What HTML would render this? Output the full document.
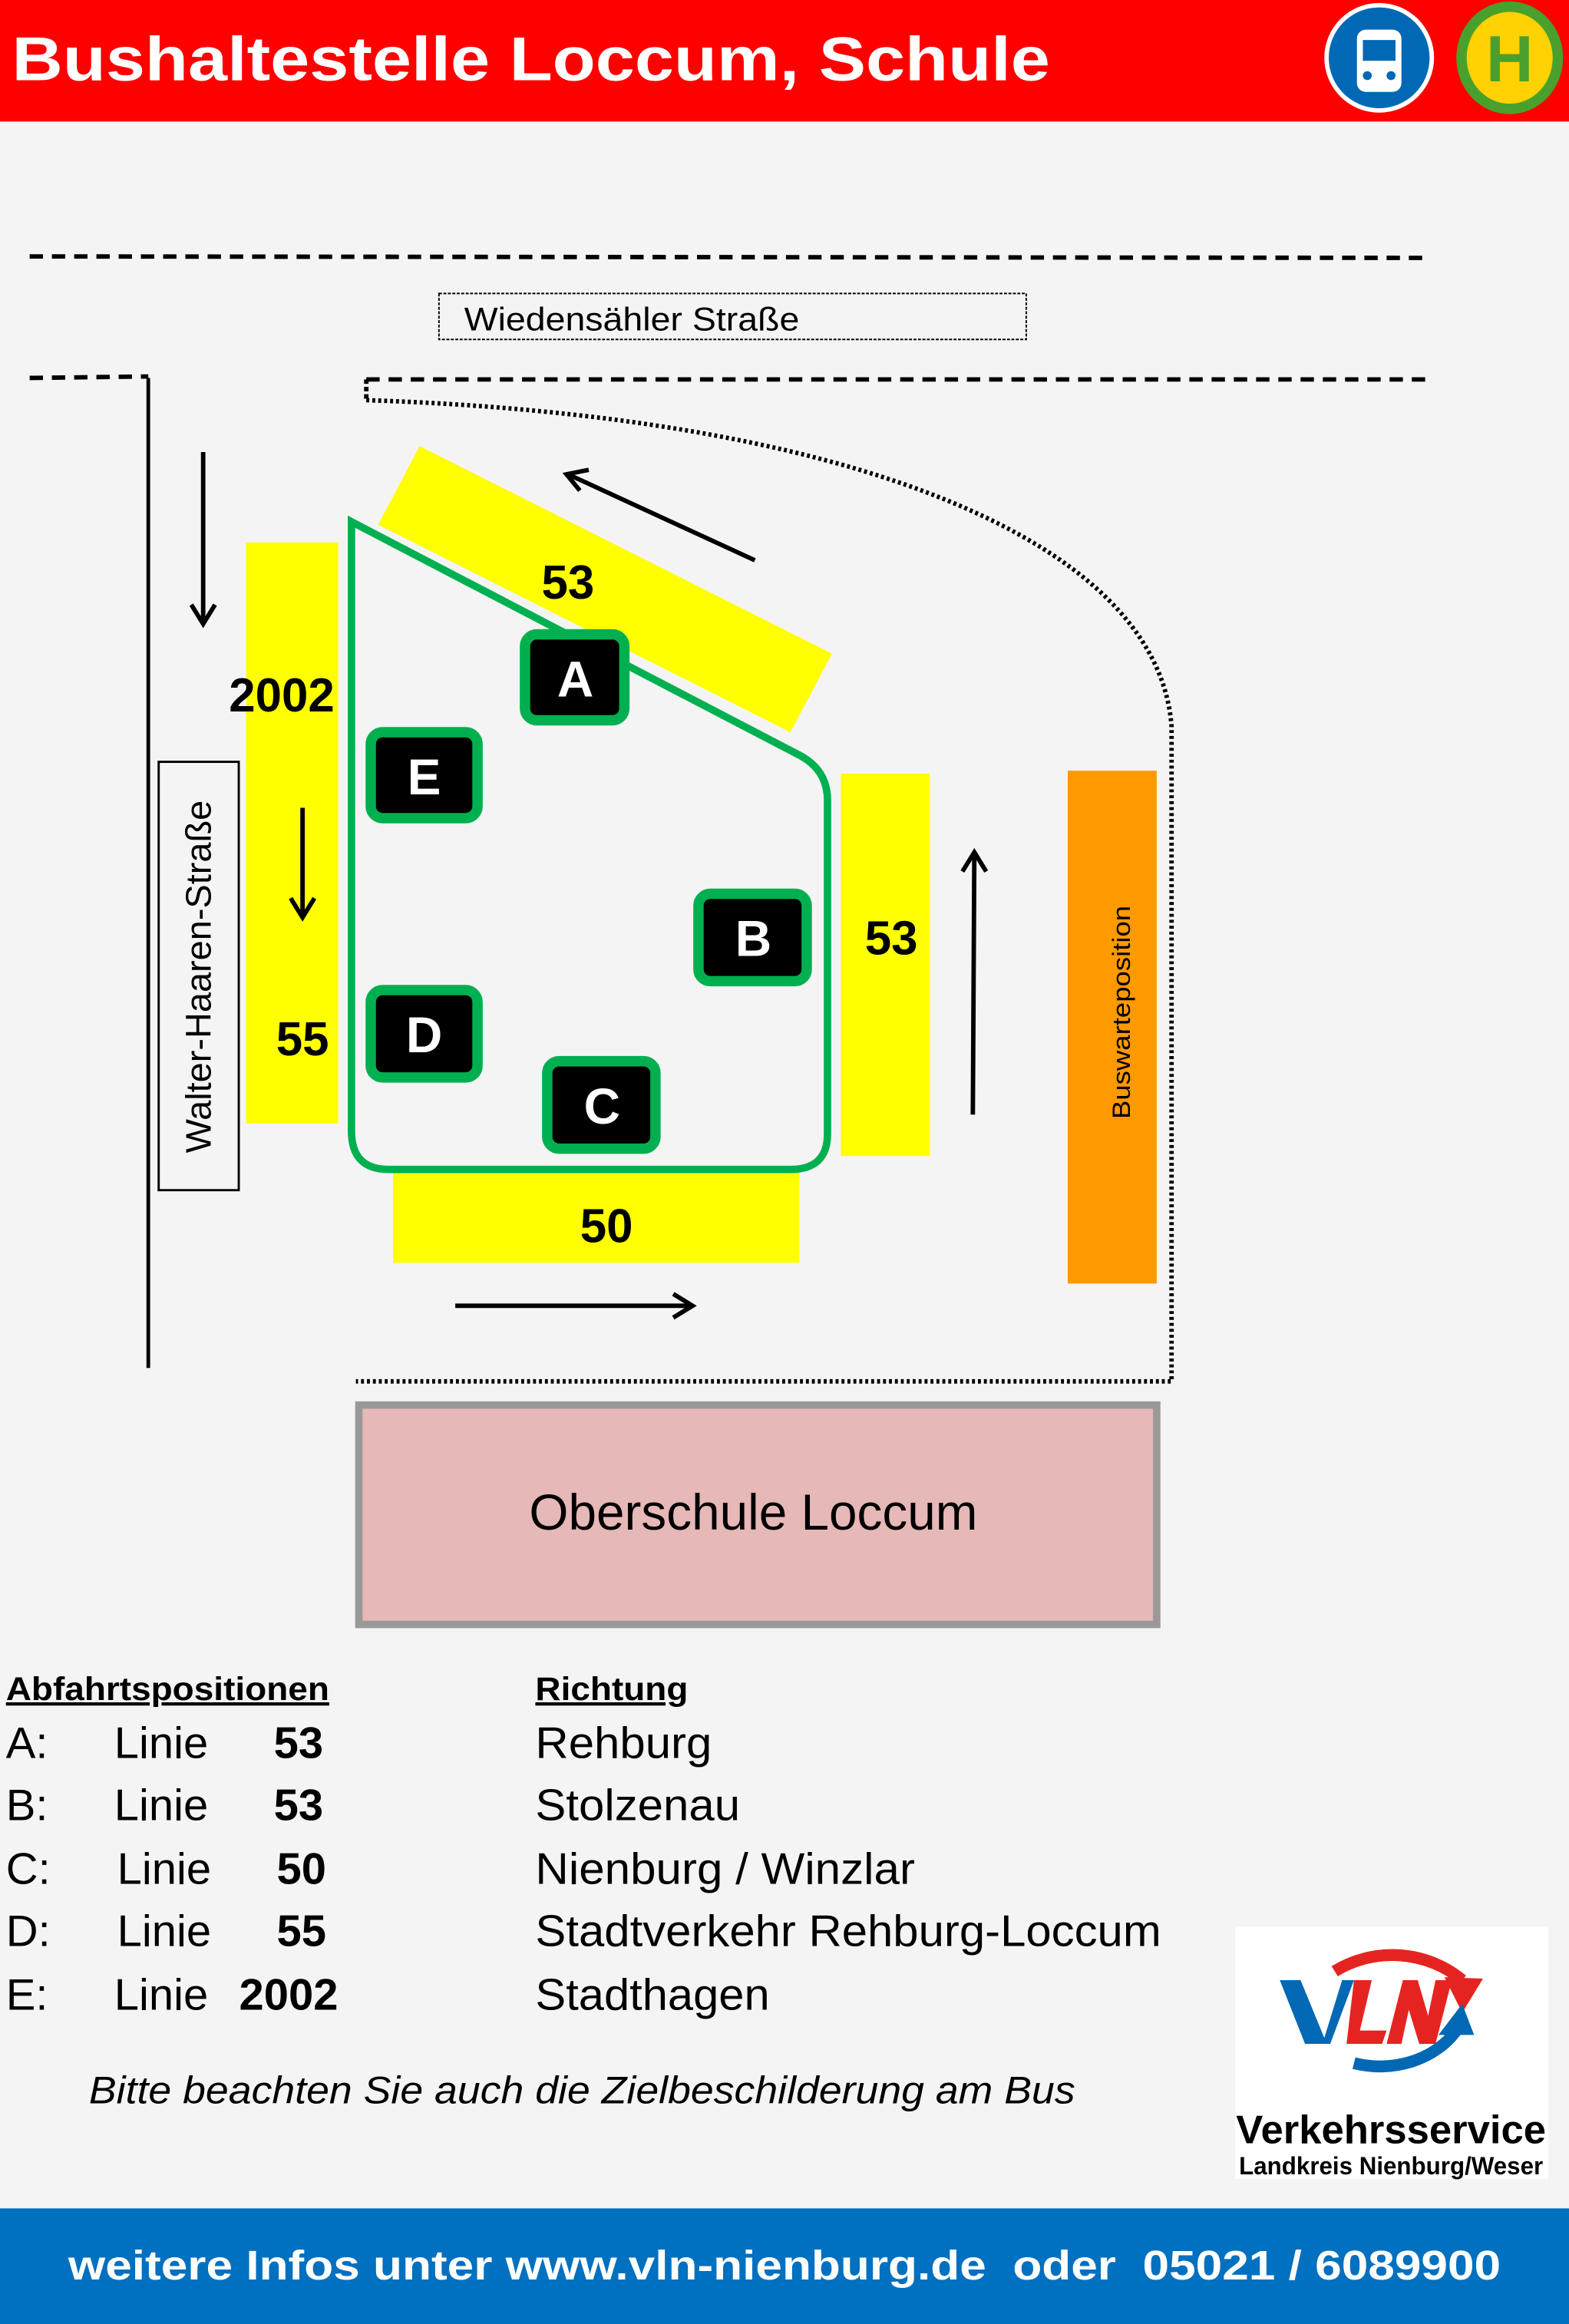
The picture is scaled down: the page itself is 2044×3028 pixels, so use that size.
<!DOCTYPE html>
<html><head><meta charset="utf-8"><style>
html,body{margin:0;padding:0;background:#f4f4f4}
svg{display:block}
text{font-family:"Liberation Sans",sans-serif}
</style></head><body>
<svg width="2044" height="3028" viewBox="0 0 1058 1568" preserveAspectRatio="none" xmlns="http://www.w3.org/2000/svg">
<rect width="1058" height="1568" fill="#f4f4f4"/>
<rect width="1058" height="82" fill="#ff0000"/>
<text x="8" y="54" font-size="42" font-weight="bold" fill="#fff" textLength="700" lengthAdjust="spacingAndGlyphs">Bushaltestelle Loccum, Schule</text>
<circle cx="930" cy="39" r="37" fill="#fff"/><circle cx="930" cy="39" r="34" fill="#0068b4"/>
<rect x="915" y="20" width="30" height="42" rx="6" fill="#fff"/><rect x="919" y="27" width="22" height="14" fill="#0068b4"/>
<circle cx="922" cy="51" r="3" fill="#0068b4"/><circle cx="938" cy="51" r="3" fill="#0068b4"/>
<ellipse cx="1018" cy="39" rx="36" ry="38" fill="#4aa02c"/><ellipse cx="1018" cy="39" rx="29" ry="31" fill="#ffd200"/>
<text x="1018" y="55" font-size="44" font-weight="bold" fill="#4aa02c" text-anchor="middle">H</text>

<g stroke="#000" fill="none">
<line x1="20" y1="173" x2="965" y2="174" stroke-width="3" stroke-dasharray="9,6"/>
<line x1="20" y1="255" x2="100" y2="254" stroke-width="3" stroke-dasharray="9,6"/>
<line x1="247" y1="256" x2="965" y2="256" stroke-width="3" stroke-dasharray="9,6"/>
<line x1="247" y1="256" x2="247" y2="270" stroke-width="3" stroke-dasharray="3,2"/>
<line x1="100" y1="255" x2="100" y2="923" stroke-width="2.5"/>
<path d="M247 270 C560 280 780 360 790 490 L790 932 L240 932" stroke-width="3" stroke-dasharray="2,2"/>
<rect x="296" y="198" width="396" height="31" stroke-width="1" stroke-dasharray="2,1"/>
</g>
<text x="313" y="223" font-size="22" textLength="226" lengthAdjust="spacingAndGlyphs">Wiedensähler Straße</text>

<rect x="166" y="366" width="62" height="392" fill="#ffff00"/>
<polygon points="283,301 561,441 533,494 255,354" fill="#ffff00"/>
<rect x="567" y="522" width="60" height="258" fill="#ffff00"/>
<rect x="265" y="790" width="274" height="62" fill="#ffff00"/>
<rect x="720" y="520" width="60" height="346" fill="#ff9900"/>

<path d="M237 352 L540 510 Q558 520 558 540 L558 765 Q558 789 533 789 L262 789 Q237 789 237 763 Z" fill="none" stroke="#00b050" stroke-width="5"/>

<g fill="#000" stroke="#00b050" stroke-width="7">
<rect x="354" y="428" width="67" height="58" rx="8"/>
<rect x="250" y="494" width="72" height="58" rx="8"/>
<rect x="471" y="603" width="73" height="59" rx="8"/>
<rect x="250" y="668" width="72" height="59" rx="8"/>
<rect x="369" y="716" width="73" height="59" rx="8"/>
</g>
<g fill="#fff" font-size="34" font-weight="bold" text-anchor="middle">
<text x="388" y="470">A</text><text x="286" y="536">E</text><text x="508" y="645">B</text><text x="286" y="710">D</text><text x="406" y="758">C</text>
</g>
<g font-size="32" font-weight="bold" text-anchor="middle">
<text x="383" y="404">53</text><text x="190" y="480">2002</text><text x="204" y="712">55</text><text x="601" y="644">53</text><text x="409" y="838">50</text>
</g>

<g stroke="#000" stroke-width="3" fill="none">
<line x1="137" y1="305" x2="137" y2="420"/><polyline points="129,408 137,421 145,408"/>
<line x1="204" y1="545" x2="204" y2="618"/><polyline points="196,606 204,619 212,606"/>
<line x1="509" y1="378" x2="383" y2="320"/><polyline points="397,317 382,320 391,331"/>
<line x1="656" y1="752" x2="657" y2="576"/><polyline points="649,588 657,575 665,588"/>
<line x1="307" y1="881" x2="466" y2="881"/><polyline points="454,873 467,881 454,889"/>
</g>

<rect x="107" y="514" width="54" height="289" fill="none" stroke="#000" stroke-width="1.5"/>
<text transform="translate(142,659) rotate(-90)" font-size="24" text-anchor="middle" textLength="238" lengthAdjust="spacingAndGlyphs">Walter-Haaren-Straße</text>
<text transform="translate(762,683) rotate(-90)" font-size="17" text-anchor="middle" textLength="144" lengthAdjust="spacingAndGlyphs">Buswarteposition</text>

<rect x="242" y="948" width="538" height="148" fill="#e6b8b7" stroke="#999" stroke-width="5"/>
<text x="508" y="1032" font-size="34" text-anchor="middle">Oberschule Loccum</text>

<g font-size="22" font-weight="bold" text-decoration="underline">
<text x="4" y="1147" textLength="218" lengthAdjust="spacingAndGlyphs">Abfahrtspositionen</text><text x="361" y="1147" textLength="103" lengthAdjust="spacingAndGlyphs">Richtung</text>
</g>
<g font-size="30">
<text x="4" y="1186">A:</text><text x="77" y="1186">Linie</text><text x="218" y="1186" font-weight="bold" text-anchor="end">53</text><text x="361" y="1186" textLength="119" lengthAdjust="spacingAndGlyphs">Rehburg</text>
<text x="4" y="1228">B:</text><text x="77" y="1228">Linie</text><text x="218" y="1228" font-weight="bold" text-anchor="end">53</text><text x="361" y="1228" textLength="138" lengthAdjust="spacingAndGlyphs">Stolzenau</text>
<text x="4" y="1271">C:</text><text x="79" y="1271">Linie</text><text x="220" y="1271" font-weight="bold" text-anchor="end">50</text><text x="361" y="1271" textLength="256" lengthAdjust="spacingAndGlyphs">Nienburg / Winzlar</text>
<text x="4" y="1313">D:</text><text x="79" y="1313">Linie</text><text x="220" y="1313" font-weight="bold" text-anchor="end">55</text><text x="361" y="1313" textLength="422" lengthAdjust="spacingAndGlyphs">Stadtverkehr Rehburg-Loccum</text>
<text x="4" y="1356">E:</text><text x="77" y="1356">Linie</text><text x="228" y="1356" font-weight="bold" text-anchor="end">2002</text><text x="361" y="1356" textLength="158" lengthAdjust="spacingAndGlyphs">Stadthagen</text>
</g>
<text x="60" y="1419" font-size="26" font-style="italic" textLength="665" lengthAdjust="spacingAndGlyphs">Bitte beachten Sie auch die Zielbeschilderung am Bus</text>

<rect x="833" y="1300" width="211" height="170" fill="#fff"/>
<path d="M900 1330 A70 65 0 0 1 986 1336" fill="none" stroke="#e52421" stroke-width="8"/>
<polygon points="974,1334 1000,1335 986,1358" fill="#e52421"/>
<path d="M913 1392 A60 50 0 0 0 982 1370" fill="none" stroke="#0068b4" stroke-width="8"/>
<polygon points="970,1373 986,1352 994,1373" fill="#0068b4"/>
<polygon points="863,1336 877,1336 893,1375 905,1336 913,1336 897,1379 880,1379" fill="#0068b4"/>
<polygon points="913,1336 925,1336 917,1370 935,1370 932,1379 908,1379" fill="#e52421"/>
<polygon points="935,1379 946,1336 956,1336 963,1360 968,1336 979,1336 968,1379 957,1379 950,1356 945,1379" fill="#e52421"/>
<text x="938" y="1446" font-size="27" font-weight="bold" text-anchor="middle" textLength="209" lengthAdjust="spacingAndGlyphs">Verkehrsservice</text>
<text x="938" y="1467" font-size="17" font-weight="bold" text-anchor="middle" textLength="205" lengthAdjust="spacingAndGlyphs">Landkreis Nienburg/Weser</text>

<rect x="0" y="1490" width="1058" height="78" fill="#0070c0"/>
<text x="529" y="1538" font-size="28" font-weight="bold" fill="#fff" text-anchor="middle" textLength="966" lengthAdjust="spacingAndGlyphs" xml:space="preserve">weitere Infos unter www.vln-nienburg.de  oder  05021 / 6089900</text>
</svg>
</body></html>
